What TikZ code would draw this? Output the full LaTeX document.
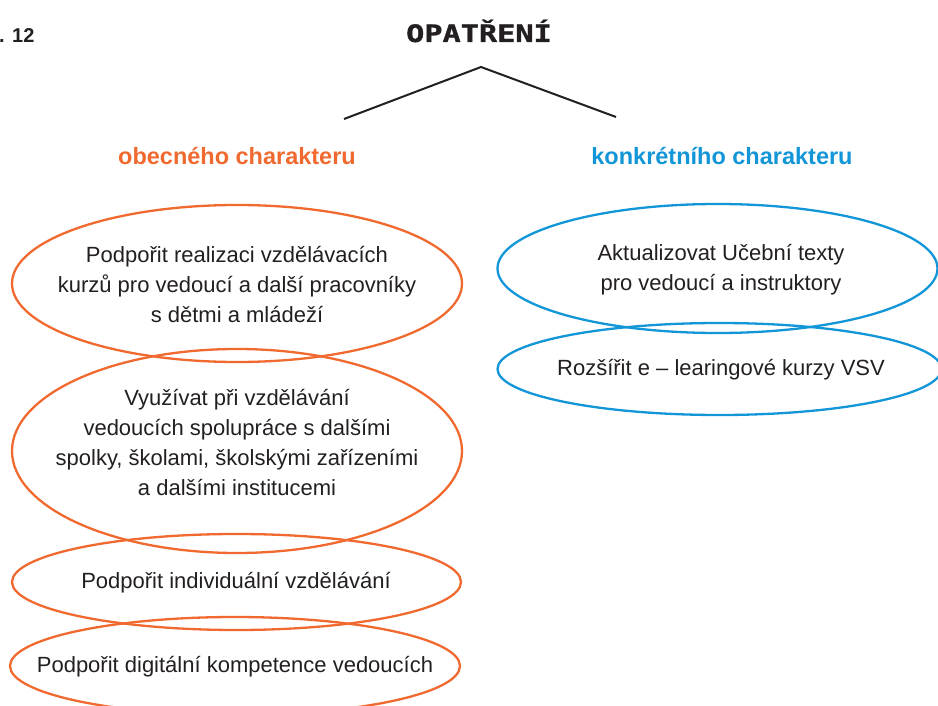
\documentclass[tikz,border=0pt]{standalone}
\usepackage{fontspec}
\usepackage{graphicx}
\setmainfont{Liberation Sans}
\newfontfamily\titlefont{DejaVu Sans Mono Bold}[FakeBold=1.2]
\usetikzlibrary{shapes.geometric}
\definecolor{orng}{HTML}{F06A30}
\definecolor{blu}{HTML}{1296D8}
\definecolor{ink}{HTML}{231F20}
\tikzset{
  ovalO/.style={ellipse, draw=orng, line width=2.3pt, inner sep=0pt},
  ovalB/.style={ellipse, draw=blu, line width=2.3pt, inner sep=0pt},
  bodytxt/.style={text=ink, align=center, inner sep=0pt, font=\fontsize{22}{30}\selectfont},
  headtxt/.style={inner sep=0pt, anchor=base, font=\fontsize{23.5}{28}\selectfont\bfseries},
  branch/.style={draw=ink, line width=2pt},
}
\begin{document}
\begin{tikzpicture}[x=1pt,y=-1pt]
\useasboundingbox (0,0) rectangle (938,706);
\node[anchor=base west, inner sep=0pt, text=ink, font=\fontsize{20}{24}\selectfont\bfseries] (fig) at (-1,43) {. 12};
\node[anchor=base, inner sep=0pt, text=ink, font=\fontsize{24}{28}\titlefont] (title) at (479,42) {\scalebox{1.26}[1]{OPATŘENÍ}};
\coordinate (apex) at (481,67);
\coordinate (lend) at (344,119);
\coordinate (rend) at (616,117);
\draw[branch] (lend) -- (apex) -- (rend);
\node[headtxt, text=orng] (hgen) at (237,165) {obecného charakteru};
\node[headtxt, text=blu] (hcon) at (722,165) {konkrétního charakteru};
% orange ellipses
\node[ovalO, minimum width=450pt, minimum height=157pt] (e1) at (237,283.5) {};
\node[ovalO, minimum width=450pt, minimum height=204pt] (e2) at (237,451) {};
\node[ovalO, minimum width=449pt, minimum height=96pt] (e3) at (236.5,582) {};
\node[ovalO, minimum width=450pt, minimum height=98pt] (e4) at (235,666) {};
\node[bodytxt] (t1) at (237,285) {Podpořit realizaci vzdělávacích\\kurzů pro vedoucí a další pracovníky\\s dětmi a mládeží};
\node[bodytxt] (t2) at (237,442.5) {Využívat při vzdělávání\\vedoucích spolupráce s dalšími\\spolky, školami, školskými zařízeními\\a dalšími institucemi};
\node[bodytxt] (t3) at (236,583) {Podpořit individuální vzdělávání};
\node[bodytxt] (t4) at (235,667) {Podpořit digitální kompetence vedoucích};
% blue ellipses
\node[ovalB, minimum width=440pt, minimum height=129pt] (b1) at (717.5,268.5) {};
\node[ovalB, minimum width=444pt, minimum height=92pt] (b2) at (719.5,369) {};
\node[bodytxt] (u1) at (721,269.5) {Aktualizovat Učební texty\\pro vedoucí a instruktory};
\node[bodytxt] (u2) at (721,370) {Rozšířit e – learingové kurzy VSV};
\end{tikzpicture}
\end{document}
